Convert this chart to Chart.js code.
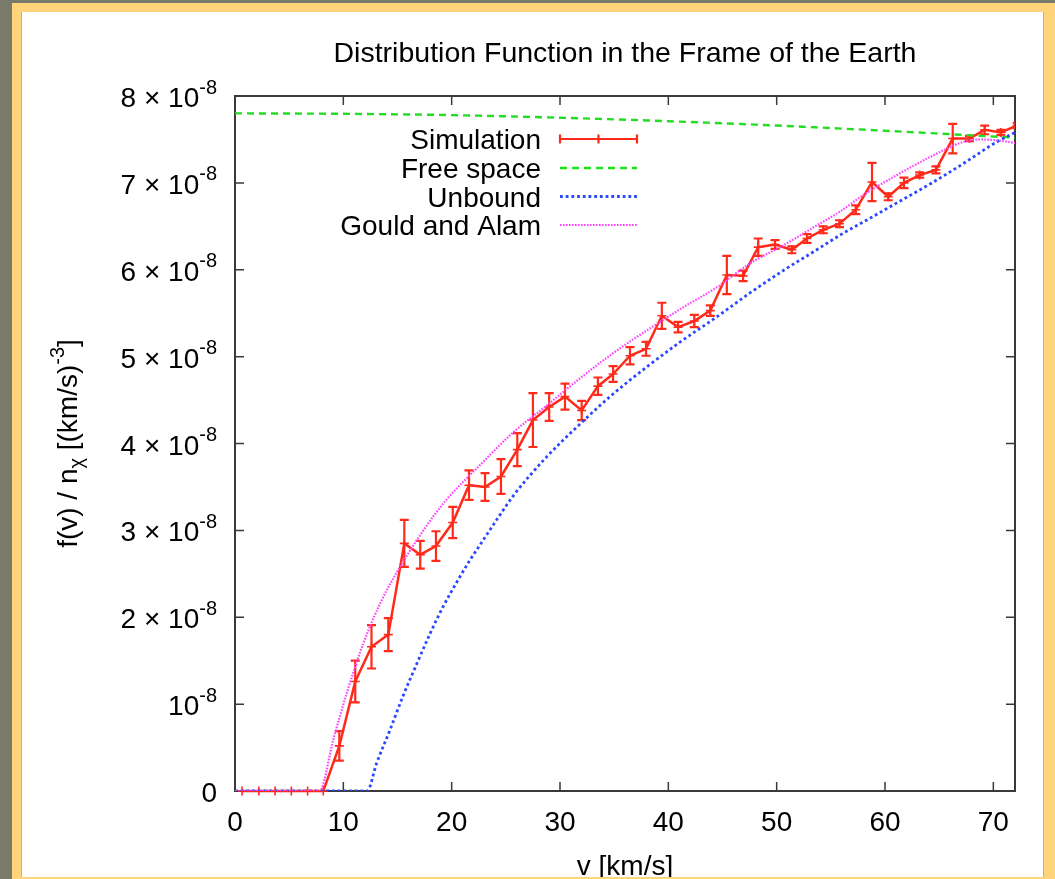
<!DOCTYPE html>
<html>
<head>
<meta charset="utf-8">
<title>Distribution Function in the Frame of the Earth</title>
<script src="https://cdn.jsdelivr.net/npm/chart.js@4.4.1/dist/chart.umd.min.js"></script>
<style>
  html, body { margin: 0; padding: 0; width: 1055px; height: 879px; overflow: hidden; background: #7a7a6a; }
  #frame { position: absolute; left: 12px; top: 3px; width: 1043px; height: 876px; background: #ffd47a; }
  #sheet { position: absolute; left: 9px; top: 9px; width: 1021px; height: 865px; background: #fff;
           border-left: 1px solid #b4b4aa; border-right: 1px solid #b4b4aa; overflow: hidden; }
  #plot { position: absolute; left: -22px; top: -12px; }
</style>
</head>
<body>
<div id="frame"><div id="sheet"><canvas id="plot" width="1055" height="879"></canvas></div></div>
<script>
// f(v)/n_chi in units of 1e-8 (km/s)^-3, v in km/s

// simulation histogram: bin centres, values, error bars
const velocity = [0.65, 2.2, 3.7, 5.2, 6.7, 8.15, 9.63, 11.1, 12.6, 14.15,
  15.63, 17.1, 18.55, 20.1, 21.6, 23.08, 24.55, 26.06, 27.5, 29.0,
  30.46, 32.0, 33.5, 34.9, 36.46, 37.94, 39.4, 40.9, 42.4, 43.87,
  45.4, 46.9, 48.3, 49.85, 51.4, 52.8, 54.3, 55.8, 57.3, 58.8,
  60.3, 61.75, 63.2, 64.7, 66.25, 67.8, 69.2, 70.7, 72.2];
const simulation = [0, 0, 0, 0, 0, 0, 0.52, 1.26, 1.66, 1.80,
  2.85, 2.72, 2.82, 3.09, 3.52, 3.50, 3.62, 3.93, 4.27, 4.42,
  4.54, 4.38, 4.66, 4.80, 5.01, 5.09, 5.47, 5.34, 5.41, 5.53,
  5.94, 5.93, 6.26, 6.29, 6.23, 6.36, 6.46, 6.53, 6.69, 7.01,
  6.84, 7.00, 7.09, 7.15, 7.51, 7.51, 7.61, 7.58, 7.66];
const simError = [0, 0, 0, 0, 0, 0, 0.17, 0.24, 0.25, 0.19,
  0.27, 0.16, 0.17, 0.18, 0.17, 0.16, 0.20, 0.19, 0.31, 0.16,
  0.15, 0.11, 0.10, 0.09, 0.10, 0.08, 0.15, 0.06, 0.07, 0.06,
  0.22, 0.06, 0.10, 0.05, 0.04, 0.05, 0.04, 0.04, 0.05, 0.22,
  0.04, 0.06, 0.03, 0.04, 0.17, 0.03, 0.05, 0.03, 0.03];

// analytic curves
const freeV = [0, 10, 20, 30, 40, 50, 60, 72];
const freeSpace = [7.80, 7.795, 7.78, 7.75, 7.71, 7.66, 7.60, 7.52];

const unboundV = [0, 12.2, 13.07, 14.3, 15.5, 16.8, 18, 19.2, 20.5, 21.7, 22.6, 24.2, 25.7, 28.8,
  31.9, 34.9, 38, 41, 44.5, 47.5, 50.6, 53.7, 56, 58, 61.1, 64.2, 67.2, 70.3, 72];
const unbound = [0, 0, 0.32, 0.70, 1.09, 1.47, 1.81, 2.12, 2.41, 2.66, 2.83, 3.13, 3.40, 3.85,
  4.23, 4.57, 4.88, 5.16, 5.46, 5.73, 5.99, 6.23, 6.41, 6.55, 6.77, 6.99, 7.22, 7.47, 7.58];

const gouldV = [0, 7.8, 9.07, 10.3, 11.85, 13.4, 14.9, 16.8, 18.3, 19.5, 22.6, 25.7, 28.8,
  31.85, 34.9, 38, 41.4, 44.5, 47.5, 50.6, 53.7, 55.85, 58, 61.1, 64.2, 67.2, 68.8, 70.3, 72];
const gouldAlam = [0, 0, 0.59, 1.12, 1.70, 2.16, 2.51, 2.89, 3.16, 3.35, 3.75, 4.13, 4.44,
  4.75, 5.04, 5.30, 5.57, 5.80, 6.07, 6.28, 6.51, 6.67, 6.86, 7.09, 7.30, 7.47, 7.50, 7.49, 7.46];

const xTicks = [0, 10, 20, 30, 40, 50, 60, 70];
const yTicks = [0, 1, 2, 3, 4, 5, 6, 7, 8];

const RED = '#ff2a1a', GREEN = '#22de22', BLUE = '#2a48ff', MAGENTA = '#ff44ff';
const FONT = '"Liberation Sans", Arial, Helvetica, sans-serif';

const pts = (xs, ys) => xs.map((x, i) => ({ x: x, y: ys[i] }));

// draw text runs (normal / superscript / subscript) left to right from x
function runs(ctx, parts, x, y) {
  parts.forEach(p => {
    ctx.font = p.size + 'px ' + FONT;
    ctx.fillText(p.text, x, y + (p.dy || 0));
    x += ctx.measureText(p.text).width;
  });
  return x;
}
function runsWidth(ctx, parts) {
  let w = 0;
  parts.forEach(p => { ctx.font = p.size + 'px ' + FONT; w += ctx.measureText(p.text).width; });
  return w;
}

const errorBars = {
  id: 'errorBars',
  afterDatasetDraw(chart, args) {
    if (args.index !== 0) return;
    const { ctx, chartArea: a, scales: { x, y } } = chart;
    ctx.save();
    ctx.beginPath();
    ctx.rect(a.left, a.top - 5, a.right - a.left, a.bottom - a.top + 10);
    ctx.clip();
    ctx.strokeStyle = RED;
    ctx.lineWidth = 2.2;
    velocity.forEach((v, i) => {
      if (!simError[i]) return;
      const px = x.getPixelForValue(v);
      const hi = y.getPixelForValue(simulation[i] + simError[i]);
      const lo = y.getPixelForValue(simulation[i] - simError[i]);
      ctx.beginPath();
      ctx.moveTo(px, hi); ctx.lineTo(px, lo);
      ctx.moveTo(px - 4.5, hi); ctx.lineTo(px + 4.5, hi);
      ctx.moveTo(px - 4.5, lo); ctx.lineTo(px + 4.5, lo);
      ctx.stroke();
    });
    ctx.restore();
  }
};

const axesFrame = {
  id: 'axesFrame',
  beforeDatasetsDraw(chart) {
    const { ctx, chartArea: a, scales: { x, y } } = chart;
    ctx.save();
    ctx.strokeStyle = '#3a3a3a';
    ctx.lineWidth = 1.5;
    ctx.beginPath();
    xTicks.forEach(t => {
      const px = x.getPixelForValue(t);
      ctx.moveTo(px, a.bottom); ctx.lineTo(px, a.bottom - 9);
      ctx.moveTo(px, a.top); ctx.lineTo(px, a.top + 9);
    });
    yTicks.forEach(t => {
      const py = y.getPixelForValue(t);
      ctx.moveTo(a.left, py); ctx.lineTo(a.left + 9, py);
      ctx.moveTo(a.right, py); ctx.lineTo(a.right - 9, py);
    });
    ctx.stroke();
    ctx.lineWidth = 2;
    ctx.strokeRect(a.left, a.top, a.right - a.left, a.bottom - a.top);
    ctx.restore();
  },
  afterDraw(chart) {
    const { ctx, chartArea: a, scales: { x, y } } = chart;
    const mid = (a.left + a.right) / 2;
    ctx.save();
    ctx.fillStyle = '#000';
    ctx.textBaseline = 'alphabetic';

    // title
    ctx.textAlign = 'center';
    ctx.font = '28.5px ' + FONT;
    ctx.fillText('Distribution Function in the Frame of the Earth', mid, 62);

    // x tick labels and title
    ctx.font = '28px ' + FONT;
    xTicks.forEach(t => ctx.fillText(String(t), x.getPixelForValue(t), 831));
    ctx.fillText('v [km/s]', mid, 875);

    // y tick labels: n × 10^-8
    ctx.textAlign = 'left';
    yTicks.forEach(t => {
      const base = t === 0 ? '0' : (t === 1 ? '10' : t + ' \u00d7 10');
      const parts = [{ text: base, size: 28 }];
      if (t !== 0) parts.push({ text: '-8', size: 20, dy: -13.5 });
      const w = runsWidth(ctx, parts);
      runs(ctx, parts, 217 - w, y.getPixelForValue(t) + 11);
    });

    // y axis title, rotated
    const yTitle = [
      { text: 'f(v) / n', size: 28 },
      { text: '\u03c7', size: 20, dy: 6 },
      { text: ' [(km/s)', size: 28 },
      { text: '-3', size: 20, dy: -13 },
      { text: ']', size: 28 }
    ];
    ctx.save();
    ctx.translate(77, (a.top + a.bottom) / 2);
    ctx.rotate(-Math.PI / 2);
    runs(ctx, yTitle, -runsWidth(ctx, yTitle) / 2, 0);
    ctx.restore();

    // key
    const rows = [139, 168, 196.5, 225];
    const names = ['Simulation', 'Free space', 'Unbound', 'Gould and Alam'];
    ctx.textAlign = 'right';
    ctx.font = '28px ' + FONT;
    names.forEach((n, i) => ctx.fillText(n, 541, rows[i] + 10));

    const x0 = 560, x1 = 637;
    ctx.lineCap = 'butt';
    ctx.strokeStyle = RED; ctx.lineWidth = 2.2;
    ctx.beginPath();
    ctx.moveTo(x0, rows[0]); ctx.lineTo(x1, rows[0]);
    [x0, x1, (x0 + x1) / 2].forEach(px => { ctx.moveTo(px, rows[0] - 4.5); ctx.lineTo(px, rows[0] + 4.5); });
    ctx.stroke();
    const sample = (row, color, width, dash) => {
      ctx.strokeStyle = color; ctx.lineWidth = width; ctx.setLineDash(dash);
      ctx.beginPath(); ctx.moveTo(x0, row); ctx.lineTo(x1, row); ctx.stroke();
    };
    sample(rows[1], GREEN, 2.4, [7, 5]);
    sample(rows[2], BLUE, 2.8, [2.8, 2.9]);
    sample(rows[3], MAGENTA, 2.2, [1.6, 1.4]);
    ctx.restore();
  }
};

const graph = document.querySelector('#plot').getContext('2d');

const fvChart = new Chart(graph, {
  type: 'line',
  data: {
    datasets: [{
      label: 'Simulation',
      data: pts(velocity, simulation),
      borderColor: RED,
      borderWidth: 2.5,
      pointStyle: 'cross',
      pointRadius: 4.5,
      pointBorderColor: RED,
      pointBorderWidth: 1.6,
      tension: 0,
      order: 3,
      clip: { left: 5, top: 5, right: 0, bottom: 5 }
    }, {
      label: 'Free space',
      data: pts(freeV, freeSpace),
      borderColor: GREEN,
      borderWidth: 2.4,
      borderDash: [7, 5],
      pointRadius: 0,
      cubicInterpolationMode: 'monotone',
      order: 2
    }, {
      label: 'Unbound',
      data: pts(unboundV, unbound),
      borderColor: BLUE,
      borderWidth: 2.8,
      borderDash: [2.8, 2.9],
      pointRadius: 0,
      cubicInterpolationMode: 'monotone',
      order: 1
    }, {
      label: 'Gould and Alam',
      data: pts(gouldV, gouldAlam),
      borderColor: MAGENTA,
      borderWidth: 2.2,
      borderDash: [1.6, 1.4],
      pointRadius: 0,
      cubicInterpolationMode: 'monotone',
      order: 0
    }]
  },
  options: {
    responsive: false,
    animation: false,
    layout: { padding: { left: 235, right: 40, top: 96, bottom: 88 } },
    scales: {
      x: { type: 'linear', min: 0, max: 72, display: false },
      y: { type: 'linear', min: 0, max: 8, display: false }
    },
    plugins: {
      legend: { display: false },
      tooltip: { enabled: false }
    }
  },
  plugins: [axesFrame, errorBars]
});
</script>
</body>
</html>
